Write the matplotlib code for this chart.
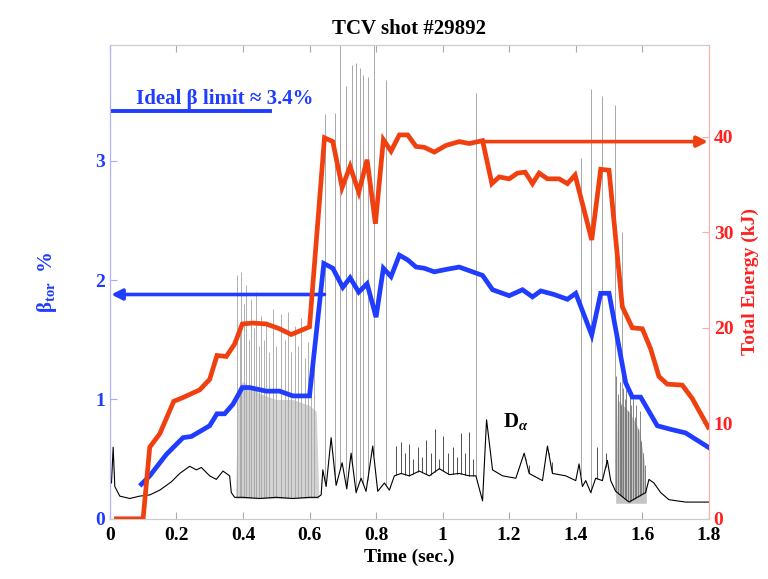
import numpy as np
import matplotlib
matplotlib.use('Agg')
import matplotlib.pyplot as plt

plt.rcParams['font.family'] = ['Liberation Serif', 'DejaVu Serif']
plt.rcParams['font.weight'] = 'bold'
plt.rcParams['mathtext.fontset'] = 'custom'
plt.rcParams['mathtext.rm'] = 'Liberation Serif:bold'
plt.rcParams['mathtext.it'] = 'Liberation Serif:italic:bold'
plt.rcParams['mathtext.bf'] = 'Liberation Serif:bold'

# beta_tor (%) - left axis
beta_t = [0.095, 0.12, 0.17, 0.22, 0.245, 0.30, 0.322, 0.345, 0.37, 0.398, 0.42, 0.47, 0.51,
          0.55, 0.60, 0.643, 0.67, 0.70, 0.722, 0.748, 0.773, 0.80, 0.822, 0.845, 0.87, 0.895,
          0.92, 0.945, 0.975, 1.01, 1.05, 1.08, 1.12, 1.15, 1.2, 1.24, 1.27, 1.295, 1.335,
          1.375, 1.4, 1.448, 1.475, 1.5, 1.55, 1.57, 1.595, 1.645, 1.685, 1.73, 1.798]
beta_v = [0.29, 0.36, 0.54, 0.68, 0.69, 0.78, 0.88, 0.88, 0.96, 1.10, 1.10, 1.07, 1.07,
          1.03, 1.03, 2.14, 2.10, 1.94, 2.02, 1.90, 1.97, 1.69, 2.10, 2.03, 2.21, 2.17,
          2.11, 2.10, 2.07, 2.09, 2.11, 2.08, 2.04, 1.92, 1.87, 1.92, 1.86, 1.91, 1.88,
          1.84, 1.89, 1.54, 1.89, 1.89, 1.14, 1.02, 1.02, 0.78, 0.75, 0.72, 0.60]

# total energy (kJ) - right axis
energy_t = [0.02, 0.10, 0.12, 0.15, 0.192, 0.22, 0.27, 0.30, 0.322, 0.35, 0.375, 0.398, 0.43,
            0.47, 0.51, 0.545, 0.60, 0.645, 0.67, 0.698, 0.722, 0.748, 0.773, 0.798, 0.822,
            0.845, 0.87, 0.895, 0.92, 0.945, 0.975, 1.01, 1.05, 1.08, 1.12, 1.148, 1.17, 1.2,
            1.225, 1.248, 1.27, 1.29, 1.315, 1.35, 1.375, 1.398, 1.448, 1.475, 1.5, 1.54,
            1.57, 1.6, 1.625, 1.65, 1.675, 1.72, 1.75, 1.798]
energy_v = [0, 0, 7.5, 8.9, 12.3, 12.7, 13.5, 14.6, 17.1, 17.0, 18.3, 20.4, 20.5,
            20.4, 19.9, 19.3, 20.1, 39.9, 39.5, 34.7, 36.9, 34.2, 37.6, 30.9, 39.7,
            38.5, 40.2, 40.2, 39.0, 38.9, 38.4, 39.1, 39.5, 39.3, 39.6, 35.1, 35.8, 35.6,
            36.2, 36.3, 35.1, 36.2, 35.6, 35.6, 35.1, 36.0, 29.2, 36.6, 36.5, 22.2,
            20.0, 19.9, 17.8, 14.9, 14.1, 14.0, 12.6, 9.6]

# D-alpha trace (arb. units, drawn on left scale)
da_t = [0.005, 0.01, 0.015, 0.03, 0.06, 0.09, 0.12, 0.15, 0.185, 0.21, 0.24, 0.26, 0.275,
        0.30, 0.32, 0.34, 0.36, 0.365, 0.375, 0.40, 0.45, 0.50, 0.55, 0.60, 0.625, 0.635,
        0.64, 0.65, 0.665, 0.68, 0.698, 0.712, 0.725, 0.74, 0.755, 0.77, 0.79, 0.805, 0.825,
        0.84, 0.855, 0.875, 0.90, 0.93, 0.96, 0.99, 1.02, 1.05, 1.08, 1.10, 1.12, 1.132,
        1.15, 1.18, 1.22, 1.245, 1.26, 1.30, 1.315, 1.33, 1.37, 1.40, 1.41, 1.42, 1.43,
        1.445, 1.46, 1.48, 1.495, 1.505, 1.52, 1.56, 1.61, 1.62, 1.635, 1.655, 1.68, 1.73, 1.8]
da_v = [0.3, 0.6, 0.27, 0.19, 0.17, 0.19, 0.2, 0.24, 0.31, 0.38, 0.44, 0.41, 0.43,
        0.36, 0.33, 0.4, 0.36, 0.22, 0.18, 0.18, 0.17, 0.18, 0.17, 0.18, 0.18, 0.2,
        0.41, 0.27, 0.68, 0.28, 0.47, 0.25, 0.55, 0.22, 0.34, 0.23, 0.61, 0.23, 0.3,
        0.24, 0.36, 0.38, 0.36, 0.4, 0.36, 0.42, 0.37, 0.38, 0.36, 0.36, 0.15, 0.83,
        0.41, 0.36, 0.34, 0.55, 0.38, 0.32, 0.61, 0.38, 0.36, 0.32, 0.46, 0.27, 0.32,
        0.22, 0.34, 0.32, 0.49, 0.32, 0.23, 0.14, 0.22, 0.33, 0.3, 0.22, 0.16, 0.14, 0.14]

# large isolated spikes
tall_t = [0.648, 0.677, 0.692, 0.71, 0.728, 0.74, 0.752, 0.762, 0.775, 0.793, 0.83,
          1.10, 1.415, 1.445, 1.478, 1.518, 1.54]
tall_v = [3.39, 3.40, 3.97, 3.63, 3.80, 3.82, 3.78, 3.72, 3.70, 3.97, 3.68,
          3.57, 3.02, 3.60, 3.54, 3.47, 2.40]

# small spikes
small_t = [0.86, 0.875, 0.888, 0.90, 0.912, 0.925, 0.938, 0.95, 0.965, 0.978, 0.99, 1.0,
           1.015, 1.03, 1.042, 1.055, 1.068, 1.08, 1.09, 1.25, 1.26, 1.32, 1.33, 1.465, 1.49]
small_v = [0.61, 0.64, 0.55, 0.63, 0.5, 0.6, 0.52, 0.66, 0.55, 0.75, 0.5, 0.69,
           0.55, 0.6, 0.52, 0.72, 0.55, 0.73, 0.5, 0.5, 0.45, 0.55, 0.48, 0.6, 0.55]

# dense ELM bursts
elm1_t = [0.383, 0.390, 0.395, 0.402, 0.410, 0.418, 0.425, 0.433, 0.440, 0.448, 0.455, 0.463,
          0.470, 0.478, 0.490, 0.500, 0.515, 0.525, 0.535, 0.545, 0.555, 0.565, 0.575, 0.585,
          0.595, 0.605, 0.615]
elm1_v = [2.04, 1.55, 2.07, 1.80, 1.96, 1.50, 1.84, 1.60, 1.90, 1.45, 1.70, 1.50,
          1.66, 1.40, 1.76, 1.45, 1.72, 1.50, 1.73, 1.40, 1.62, 1.45, 1.68, 1.35,
          1.48, 1.30, 1.40]
env1_t = [0.378, 0.385, 0.40, 0.45, 0.50, 0.55, 0.60, 0.62, 0.628]
env1_v = [0.2, 1.1, 1.15, 1.05, 1.0, 1.0, 0.95, 0.9, 0.2]

elm2_t = [1.522, 1.527, 1.532, 1.537, 1.542, 1.547, 1.552, 1.557, 1.562, 1.567, 1.572, 1.577,
          1.582, 1.587, 1.592, 1.597, 1.602, 1.607]
elm2_v = [1.20, 1.05, 1.15, 0.95, 1.10, 1.00, 1.08, 0.90, 1.05, 0.95, 1.00, 0.85,
          0.95, 0.75, 0.90, 0.65, 0.55, 0.45]
env2_t = [1.52, 1.525, 1.56, 1.59, 1.605, 1.612]
env2_v = [0.2, 1.0, 0.9, 0.75, 0.5, 0.2]

x_ticks = [0, 0.2, 0.4, 0.6, 0.8, 1.0, 1.2, 1.4, 1.6, 1.8]
x_labels = ['0', '0.2', '0.4', '0.6', '0.8', '1', '1.2', '1.4', '1.6', '1.8']
beta_ticks = [0, 1, 2, 3]
energy_ticks = [0, 10, 20, 30, 40]

blue = '#1f3cff'
red = '#f0400f'

fig = plt.figure(figsize=(7.68, 5.79), dpi=100)
ax = fig.add_axes([0.143, 0.104, 0.780, 0.818])
ax2 = ax.twinx()

# D-alpha
ax.fill_between(env1_t, 0.17, env1_v, color='#d2d2d2', lw=0, zorder=1)
ax.fill_between(env2_t, 0.13, env2_v, color='#c4c4c4', lw=0, zorder=1)
ax.vlines(elm1_t, np.interp(elm1_t, da_t, da_v), elm1_v, color='#a4a4a4', lw=0.6, zorder=1.5)
ax.vlines(elm2_t, np.interp(elm2_t, da_t, da_v), elm2_v, color='#707070', lw=0.6, zorder=1.5)
ax.vlines(tall_t, np.interp(tall_t, da_t, da_v), tall_v, color='#9a9a9a', lw=0.6, zorder=1.5)
ax.vlines(small_t, np.interp(small_t, da_t, da_v), small_v, color='#333333', lw=0.6, zorder=1.6)
ax.plot(da_t, da_v, color='black', lw=0.8, zorder=2)

# beta
ax.plot(beta_t, beta_v, color=blue, lw=3.4, zorder=4, solid_joinstyle='miter')
ax.plot([0, 0.48], [3.42, 3.42], color=blue, lw=2.8, zorder=4)
ax.text(0.08, 3.48, 'Ideal \u03b2 limit \u2248 3.4%', color=blue, fontsize=15,
        fontweight='bold', zorder=5)
ax.annotate('', xy=(0.004, 1.88), xytext=(0.645, 1.88),
            arrowprops=dict(arrowstyle='-|>', color=blue, lw=2.6, mutation_scale=16,
                            shrinkA=0, shrinkB=0), zorder=4)
ax.text(1.182, 0.77, r'D$_{\alpha}$', fontsize=15, color='black', zorder=5)

# energy
ax2.plot(energy_t, energy_v, color=red, lw=3.4, zorder=4, solid_joinstyle='miter')
ax2.annotate('', xy=(1.797, 39.5), xytext=(1.12, 39.5),
             arrowprops=dict(arrowstyle='-|>', color=red, lw=2.6, mutation_scale=16,
                             shrinkA=0, shrinkB=0), zorder=4)

ax.set_xlim(0, 1.8)
ax.set_ylim(0, 3.97)
ax2.set_ylim(0, 49.6)
ax.set_xticks(x_ticks)
ax.set_xticklabels(x_labels)
ax.set_yticks(beta_ticks)
ax2.set_yticks(energy_ticks)

ax.tick_params(axis='x', direction='in', top=True, labelsize=14, length=5, color='#aaaaaa', pad=6)
ax.tick_params(axis='y', direction='in', labelsize=14, length=5, color='#aaaaff', labelcolor=blue)
ax2.tick_params(axis='y', direction='in', labelsize=14, length=5, color='#ffaaaa', labelcolor='#ff2020')
for lab in ax.get_xticklabels() + ax.get_yticklabels() + ax2.get_yticklabels():
    lab.set_fontweight('bold')

for a in (ax, ax2):
    a.spines['top'].set_color('#cccccc')
    a.spines['bottom'].set_color('#cccccc')
    a.spines['left'].set_color('#b0b0ff')
    a.spines['right'].set_color('#ffb0b0')
    for s in a.spines.values():
        s.set_linewidth(0.8)

ax.set_xlabel('Time (sec.)', fontsize=14, fontweight='bold', labelpad=3)
ax.set_ylabel('\u03b2$_{\\mathrm{tor}}$  %', fontsize=15, color=blue, fontweight='bold')
ax.yaxis.set_label_coords(-0.085, 0.5)
ax2.set_ylabel('Total Energy (kJ)', fontsize=14, color='#ff2020', fontweight='bold')
ax2.yaxis.set_label_coords(1.055, 0.5)
ax.set_title('TCV shot #29892', fontsize=15, fontweight='bold', pad=8)

fig.savefig('out.png', dpi=100)
